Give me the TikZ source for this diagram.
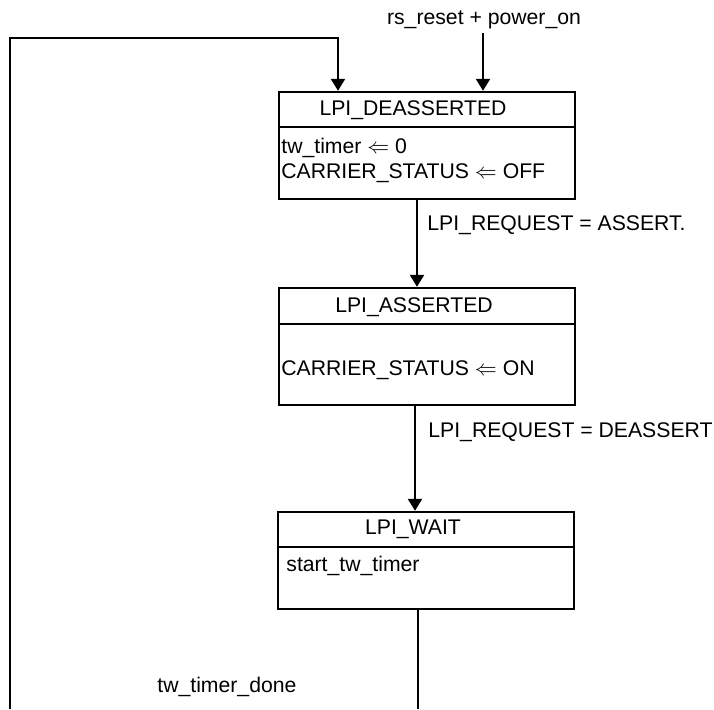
\documentclass[tikz,border=0pt]{standalone}
\usepackage{fontspec}
\setmainfont{Liberation Sans}
\usetikzlibrary{arrows.meta}

\begin{document}
\begin{tikzpicture}[x=0.5pt,y=-0.5pt,
  state/.style={draw,line width=1.2pt,minimum width=148pt,inner sep=0pt},
  flow/.style={line width=1.1pt,-{Triangle[width=7pt,length=6pt]}},
  txt/.style={inner sep=0pt,anchor=base west,font=\fontsize{10.6}{12.7}\selectfont},
  title/.style={txt,anchor=base}]
\useasboundingbox (0,0) rectangle (714,709);
%states
\node[state,minimum height=53.5pt] (deass) at (427,145.5) {};
\draw[line width=1.2pt] (279,127) -- (575,127);
\node[title] (deasst) at (413,115) {LPI\_DEASSERTED};
\node[txt] (deassa) at (281,153) {tw\_timer $\Leftarrow$ 0};
\node[txt] (deassb) at (281,178) {CARRIER\_STATUS $\Leftarrow$ OFF};

\node[state,minimum height=58.5pt] (ass) at (427,346.5) {};
\draw[line width=1.2pt] (279,324) -- (575,324);
\node[title] (asst) at (414,312) {LPI\_ASSERTED};
\node[txt] (assa) at (281,375) {CARRIER\_STATUS $\Leftarrow$ ON};

\node[state,minimum height=48.5pt] (wait) at (426,560.5) {};
\draw[line width=1.2pt] (278,547) -- (574,547);
\node[title] (waitt) at (413,534) {LPI\_WAIT};
\node[txt] (waita) at (286,571) {start\_tw\_timer};

%inputs
\node[title] (rs) at (484,24) {rs\_reset + power\_on};
\coordinate (rsin) at (483,33);
\draw[flow] (rsin) -- (rsin |- deass.north);
\coordinate (loopbot) at (10,709);
\coordinate (loopin) at (338,38);
\draw[flow] (loopbot) |- (loopin) -- (loopin |- deass.north);

%transitions
\coordinate (ca) at (417,0);
\draw[flow] (ca |- deass.south) -- (ca |- ass.north);
\node[txt] (reqa) at (427,230) {LPI\_REQUEST = ASSERT.};
\coordinate (cb) at (415,0);
\draw[flow] (cb |- ass.south) -- (cb |- wait.north);
\node[txt] (reqd) at (428,437) {LPI\_REQUEST = DEASSERT};
\coordinate (waitout) at (418,709);
\draw[line width=1.1pt] (waitout |- wait.south) -- (waitout);
\node[txt] (done) at (157,692) {tw\_timer\_done};
\end{tikzpicture}
\end{document}
